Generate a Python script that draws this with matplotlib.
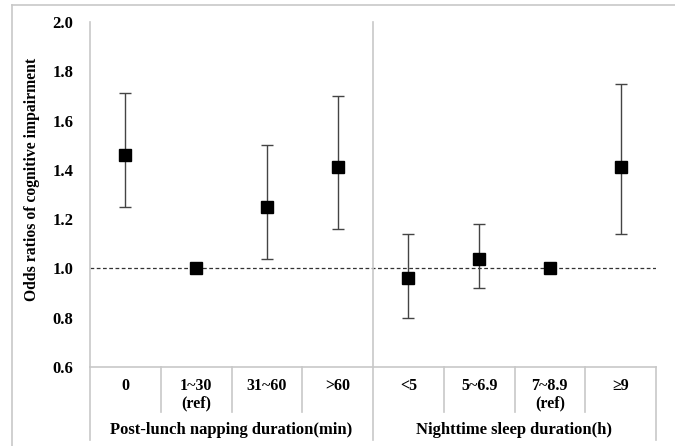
import matplotlib
matplotlib.use("Agg")
import matplotlib.pyplot as plt
import matplotlib.transforms as mtransforms
from matplotlib.lines import Line2D
import numpy as np

plt.rcParams['font.family'] = ['Liberation Serif', 'DejaVu Serif']
plt.rcParams['font.weight'] = 'bold'

categories = ['0', '1~30\n(ref)', '31~60', '>60', '<5', '5~6.9', '7~8.9\n(ref)', '\u22659']
odds = [1.46, 1.00, 1.25, 1.41, 0.96, 1.04, 1.00, 1.41]
lower = [1.25, 1.00, 1.04, 1.16, 0.80, 0.92, 1.00, 1.14]
upper = [1.71, 1.00, 1.50, 1.70, 1.14, 1.18, 1.00, 1.75]
groups = ['Post-lunch napping duration(min)', 'Nighttime sleep duration(h)']
yticks = [0.6, 0.8, 1.0, 1.2, 1.4, 1.6, 1.8, 2.0]

W, H = 675, 446
fig = plt.figure(figsize=(W / 100, H / 100), dpi=100)
ax = fig.add_axes([90 / W, (H - 367) / H, 566 / W, 345 / H])

x = np.arange(len(categories)) + 0.5
odds = np.array(odds)
err = [odds - np.array(lower), np.array(upper) - odds]

gray = '#c8c8c8'
ax.axhline(1.0, color='#333333', lw=0.9, ls=(0, (3, 2)), zorder=1)
ax.errorbar(x, odds, yerr=err, fmt='none', ecolor='#444444', elinewidth=1.0,
            capsize=4, capthick=1.0, zorder=2)
ax.plot(x, odds, 's', color='black', markersize=8.5, zorder=3)

ax.set_xlim(0, len(categories))
ax.set_ylim(0.6, 2.0)
ax.set_yticks(yticks)
ax.set_yticklabels(['%.1f' % v for v in yticks], fontsize=12, fontweight='bold')
ax.tick_params(axis='y', length=0, pad=12)
ax.set_xticks([])
for s in ['top', 'right']:
    ax.spines[s].set_visible(False)
ax.spines['left'].set_color(gray)
ax.spines['bottom'].set_color(gray)
ax.spines['left'].set_linewidth(1.2)
ax.spines['bottom'].set_linewidth(1.2)

# y label, placed by hand to sit where the reference has it
ax.text((32 - 90) / 566, (367 - 179) / 345, 'Odds ratios of cognitive impairment',
        transform=ax.transAxes, rotation=90, ha='center', va='center',
        fontsize=11.3, fontweight='bold')

# table below the axis
trans = mtransforms.blended_transform_factory(ax.transData, ax.transAxes)
y_small = -45 / 345
y_big = -73 / 345
for i in range(len(categories) + 1):
    bottom = y_big if i in (0, 4, 8) else y_small
    ax.plot([i, i], [0, bottom], color=gray, lw=1.2, transform=trans, clip_on=False)
ax.plot([4, 4], [0, 1], color=gray, lw=1.2, transform=trans, clip_on=False)

for xi, lab in zip(x, categories):
    ax.text(xi, -11 / 345, lab, transform=trans, ha='center', va='top',
            fontsize=11.5, fontweight='bold', linespacing=1.15)

ax.text(2, -63 / 345, groups[0], transform=trans, ha='center', va='center',
        fontsize=12, fontweight='bold')
ax.text(6, -63 / 345, groups[1], transform=trans, ha='center', va='center',
        fontsize=12, fontweight='bold')

# outer frame
fig.add_artist(Line2D([12 / W, 1], [1 - 5 / H, 1 - 5 / H], color=gray, lw=1.2))
fig.add_artist(Line2D([12 / W, 12 / W], [0, 1 - 5 / H], color=gray, lw=1.2))

fig.savefig('out.png', dpi=100)
